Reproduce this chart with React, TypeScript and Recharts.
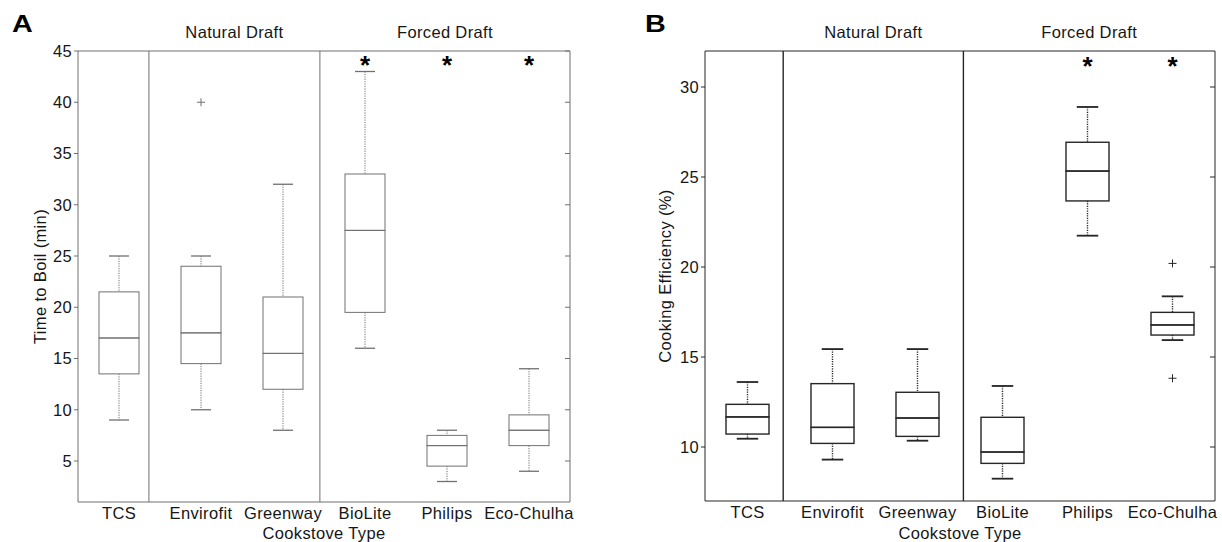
import React from 'react'
import { ComposedChart, Bar, Scatter, XAxis, YAxis, ReferenceLine, ReferenceArea } from 'recharts'

// cookstove types, shared by both panels
const categories = ['TCS', 'Envirofit', 'Greenway', 'BioLite', 'Philips', 'Eco-Chulha']

// panel A: time to boil (min)
const boilMin = [9, 10, 8, 16, 3, 4]
const boilQ1 = [13.5, 14.5, 12, 19.5, 4.5, 6.5]
const boilMedian = [17, 17.5, 15.5, 27.5, 6.5, 8]
const boilQ3 = [21.5, 24, 21, 33, 7.5, 9.5]
const boilMax = [25, 25, 32, 43, 8, 14]
const boilOutliers = [{ pos: 2, value: 40 }]
const boilStars = [{ pos: 4, value: 44.1 }, { pos: 5, value: 44.1 }, { pos: 6, value: 44.1 }]
const boilTicks = [5, 10, 15, 20, 25, 30, 35, 40, 45]

// panel B: cooking efficiency (%)
const effMin = [10.46, 9.3, 10.35, 8.24, 21.74, 15.94]
const effQ1 = [10.72, 10.2, 10.59, 9.09, 23.67, 16.22]
const effMedian = [11.67, 11.09, 11.61, 9.72, 25.33, 16.78]
const effQ3 = [12.37, 13.52, 13.04, 11.65, 26.93, 17.48]
const effMax = [13.61, 15.44, 15.44, 13.39, 28.89, 18.37]
const effOutliers = [{ pos: 6, value: 20.2 }, { pos: 6, value: 13.82 }]
const effStars = [{ pos: 5, value: 31.44 }, { pos: 6, value: 31.44 }]
const effTicks = [10, 15, 20, 25, 30]

const FONT = '"Liberation Sans", Arial, sans-serif'
const TEXT = '#161616'

function buildRows(min: number[], q1: number[], med: number[], q3: number[], max: number[]) {
  return categories.map((name, i) => ({
    pos: i + 1,
    name,
    base: min[i],
    lowWhisker: q1[i] - min[i],
    lowBox: med[i] - q1[i],
    highBox: q3[i] - med[i],
    highWhisker: max[i] - q3[i],
  }))
}

const whiskerShape = (color: string, end: 'top' | 'bottom', w: number) => (props: any) => {
  const { x, y, width, height } = props
  const cx = x + width / 2
  const capY = end === 'bottom' ? y + height : y
  return (
    <g>
      <line x1={cx} x2={cx} y1={y} y2={y + height} stroke={color} strokeWidth={w} strokeDasharray="1.2 1.2" />
      <line x1={cx - width / 4} x2={cx + width / 4} y1={capY} y2={capY} stroke={color} strokeWidth={w * 1.3} />
    </g>
  )
}

const boxShape = (color: string, w: number) => (props: any) => (
  <rect x={props.x} y={props.y} width={props.width} height={props.height} fill="none" stroke={color} strokeWidth={w} />
)

const plusShape = (color: string) => (props: any) => (
  <g>
    <line x1={props.cx - 4} x2={props.cx + 4} y1={props.cy} y2={props.cy} stroke={color} />
    <line x1={props.cx} x2={props.cx} y1={props.cy - 4} y2={props.cy + 4} stroke={color} />
  </g>
)

const starShape = (props: any) => (
  <text x={props.cx} y={props.cy + 14} textAnchor="middle" fontSize={26} fontWeight="bold" fontFamily={FONT} fill="#000">
    *
  </text>
)

const innerTick = (color: string) => (props: any) => (
  <line x1={props.x - 5} x2={props.x} y1={props.y} y2={props.y} stroke={color} />
)

type PanelProps = {
  rows: ReturnType<typeof buildRows>
  outliers: { pos: number; value: number }[]
  stars: { pos: number; value: number }[]
  domain: [number, number]
  ticks: number[]
  yLabel: string
  seps: [number, number]
  color: string
  lineWidth: number
  width: number
  barSize: number
  margin: { top: number; right: number; bottom: number; left: number }
  yWidth: number
  rightWidth: number
  xHeight: number
  yLabelOffset: number
}

function BoxPanel(p: PanelProps) {
  const tickStyle = { fill: TEXT, fontSize: 16.5, fontFamily: FONT, letterSpacing: 0.35 }
  const labelStyle = { fill: TEXT, fontSize: 16.5, fontFamily: FONT, letterSpacing: 0.35 }
  return (
    <ComposedChart width={p.width} height={542} data={p.rows} margin={p.margin}>
      <XAxis
        dataKey="pos"
        type="number"
        domain={[0.5, 6.5]}
        ticks={[1, 2, 3, 4, 5, 6]}
        interval={0}
        allowDataOverflow
        tickFormatter={(v: number) => categories[v - 1]}
        tickLine={false}
        tickSize={0}
        tickMargin={5}
        height={p.xHeight}
        stroke={p.color}
        tick={tickStyle}
        label={{ value: 'Cookstove Type', position: 'insideBottom', offset: 3, style: labelStyle }}
      />
      <YAxis
        type="number"
        domain={p.domain}
        ticks={p.ticks}
        allowDataOverflow
        width={p.yWidth}
        tickSize={4}
        tickMargin={2}
        stroke={p.color}
        tick={tickStyle}
        label={{ value: p.yLabel, angle: -90, position: 'insideLeft', offset: p.yLabelOffset, style: { ...labelStyle, textAnchor: 'middle' } }}
      />
      <YAxis
        yAxisId="right"
        orientation="right"
        type="number"
        domain={p.domain}
        ticks={p.ticks}
        allowDataOverflow
        width={p.rightWidth}
        tickLine={false}
        tickSize={0}
        tickMargin={0}
        stroke={p.color}
        tick={innerTick(p.color)}
      />
      <ReferenceLine y={p.domain[1]} stroke={p.color} />
      <ReferenceLine x={p.seps[0]} stroke={p.color} strokeWidth={p.lineWidth} />
      <ReferenceLine x={p.seps[1]} stroke={p.color} strokeWidth={p.lineWidth} />
      <ReferenceArea
        x1={p.seps[0]}
        x2={p.seps[1]}
        fill="none"
        fillOpacity={0}
        stroke="none"
        label={{ value: 'Natural Draft', position: 'top', offset: 13, style: labelStyle }}
      />
      <ReferenceArea
        x1={p.seps[1]}
        x2={6.5}
        fill="none"
        fillOpacity={0}
        stroke="none"
        label={{ value: 'Forced Draft', position: 'top', offset: 13, style: labelStyle }}
      />
      <Bar dataKey="base" stackId="box" barSize={p.barSize} fill="none" isAnimationActive={false} shape={() => <g />} />
      <Bar dataKey="lowWhisker" stackId="box" barSize={p.barSize} isAnimationActive={false} shape={whiskerShape(p.color, 'bottom', p.lineWidth)} />
      <Bar dataKey="lowBox" stackId="box" barSize={p.barSize} isAnimationActive={false} shape={boxShape(p.color, p.lineWidth)} />
      <Bar dataKey="highBox" stackId="box" barSize={p.barSize} isAnimationActive={false} shape={boxShape(p.color, p.lineWidth)} />
      <Bar dataKey="highWhisker" stackId="box" barSize={p.barSize} isAnimationActive={false} shape={whiskerShape(p.color, 'top', p.lineWidth)} />
      <Scatter data={p.outliers} dataKey="value" isAnimationActive={false} shape={plusShape(p.color)} />
      <Scatter data={p.stars} dataKey="value" isAnimationActive={false} shape={starShape} />
    </ComposedChart>
  )
}

const letterStyle: React.CSSProperties = {
  position: 'absolute',
  top: 13,
  fontFamily: FONT,
  fontWeight: 'bold',
  fontSize: 23,
  lineHeight: '23px',
  color: '#000',
  transform: 'scaleX(1.25)',
  transformOrigin: 'left top',
}

export default function App() {
  const boilRows = buildRows(boilMin, boilQ1, boilMedian, boilQ3, boilMax)
  const effRows = buildRows(effMin, effQ1, effMedian, effQ3, effMax)
  return (
    <div style={{ position: 'absolute', left: 0, top: 0, width: 1222, height: 542, background: '#fff' }}>
      <div style={{ ...letterStyle, left: 12 }}>A</div>
      <div style={{ ...letterStyle, left: 645 }}>B</div>
      <div style={{ position: 'absolute', left: 0, top: 0 }}>
        <BoxPanel
          rows={boilRows}
          outliers={boilOutliers}
          stars={boilStars}
          domain={[1, 45]}
          ticks={boilTicks}
          yLabel="Time to Boil (min)"
          seps={[1.365, 3.45]}
          color="#707070"
          lineWidth={1}
          width={600}
          barSize={40}
          margin={{ top: 51, right: 20, bottom: 0, left: 28 }}
          yWidth={50}
          rightWidth={10}
          xHeight={40}
          yLabelOffset={12}
        />
      </div>
      <div style={{ position: 'absolute', left: 620, top: 0 }}>
        <BoxPanel
          rows={effRows}
          outliers={effOutliers}
          stars={effStars}
          domain={[7, 32]}
          ticks={effTicks}
          yLabel="Cooking Efficiency (%)"
          seps={[1.42, 3.54]}
          color="#262626"
          lineWidth={1.4}
          width={602}
          barSize={43}
          margin={{ top: 51, right: 2, bottom: 0, left: 30 }}
          yWidth={55}
          rightWidth={5}
          xHeight={41}
          yLabelOffset={15}
        />
      </div>
    </div>
  )
}
